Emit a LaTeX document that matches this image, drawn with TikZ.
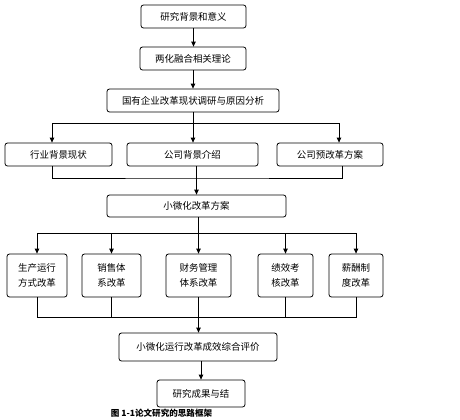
\documentclass[tikz,border=0pt]{standalone}
\usepackage{fontspec}
\setmainfont{Noto Sans CJK SC}
\usetikzlibrary{arrows.meta}
\tikzset{
  box/.style={
    draw,
    rounded corners=2.5bp,
    inner sep=0pt,
    line width=0.8bp,
    align=center,
    font=\fontsize{9.5}{15}\selectfont
  },
  arr/.style={
    line width=0.8bp,
    -{Triangle[length=5bp,width=4.5bp]}
  },
  lnk/.style={
    line width=0.8bp
  },
  caption/.style={
    font=\fontsize{8.6}{9}\selectfont\bfseries
  }
}

\begin{document}
\begin{tikzpicture}[x=1bp,y=-1bp]
  \useasboundingbox (0,0) rectangle (460,419);
  % upper chain
  \node[box, minimum width=105bp, minimum height=23bp] (yj) at (193.5,16.5) {研究背景和意义};
  \node[box, minimum width=106bp, minimum height=23bp] (ll) at (193,58.5) {两化融合相关理论};
  \node[box, minimum width=172bp, minimum height=23bp] (dy) at (193,100.5) {国有企业改革现状调研与原因分析};
  \node[box, minimum width=107bp, minimum height=23bp] (hy) at (58.5,154.5) {行业背景现状};
  \node[box, minimum width=131bp, minimum height=23bp] (gs) at (192.5,154.5) {公司背景介绍};
  \node[box, minimum width=106bp, minimum height=23bp] (yg) at (330,154.5) {公司预改革方案};
  \node[box, minimum width=179bp, minimum height=22bp] (fa) at (196.5,206) {小微化改革方案};
  % reform boxes
  \node[box, minimum width=60bp, minimum height=43bp] (sc) at (37,275.5) {生产运行\\方式改革};
  \node[box, minimum width=59bp, minimum height=43bp] (xs) at (111.5,275.5) {销售体\\系改革};
  \node[box, minimum width=65bp, minimum height=43bp] (cw) at (198.5,275.5) {财务管理\\体系改革};
  \node[box, minimum width=55bp, minimum height=43bp] (jx) at (285.5,275.5) {绩效考\\核改革};
  \node[box, minimum width=54bp, minimum height=43bp] (xc) at (356,275.5) {薪酬制\\度改革};
  \node[box, minimum width=158bp, minimum height=28bp] (pj) at (198,347) {小微化运行改革成效综合评价};
  \node[box, minimum width=88bp, minimum height=27bp] (cg) at (201,393.5) {研究成果与结};
  \node[caption] (tt) at (161.5,413) {图 1-1论文研究的思路框架};

  \coordinate (c1) at (193,123);
  \coordinate (m1) at (197,178);
  \coordinate (c2) at (198,233);
  \coordinate (m2) at (198,317);

  \draw[arr] (yj.south) -- (yj.south |- ll.north);
  \draw[arr] (ll.south) -- (ll.south |- dy.north);
  \draw[arr] (dy.south) -- (dy.south |- gs.north);
  \draw[arr] (c1) -| ([xshift=-6.5bp]hy.north);
  \draw[arr] (c1) -| ([xshift=9bp]yg.north);
  \draw[lnk] ([xshift=-6.5bp]hy.south) |- (m1) -| ([xshift=12bp]yg.south);
  \draw[arr] (gs.south -| fa.north) -- (fa.north);

  \draw[arr] (fa.south -| cw.north) -- (cw.north);
  \draw[lnk] (sc.north |- c2) -- (xc.north |- c2);
  \draw[arr] (sc.north |- c2) -- (sc.north);
  \draw[arr] (xs.north |- c2) -- (xs.north);
  \draw[arr] (jx.north |- c2) -- (jx.north);
  \draw[arr] (xc.north |- c2) -- (xc.north);

  \draw[lnk] (sc.south) |- (xc.south |- m2) -- (xc.south);
  \draw[lnk] (xs.south) -- (xs.south |- m2);
  \draw[lnk] (jx.south) -- (jx.south |- m2);
  \draw[arr] (cw.south) -- (cw.south |- pj.north);
  \draw[arr] (pj.south -| cg.north) -- (cg.north);
\end{tikzpicture}
\end{document}
